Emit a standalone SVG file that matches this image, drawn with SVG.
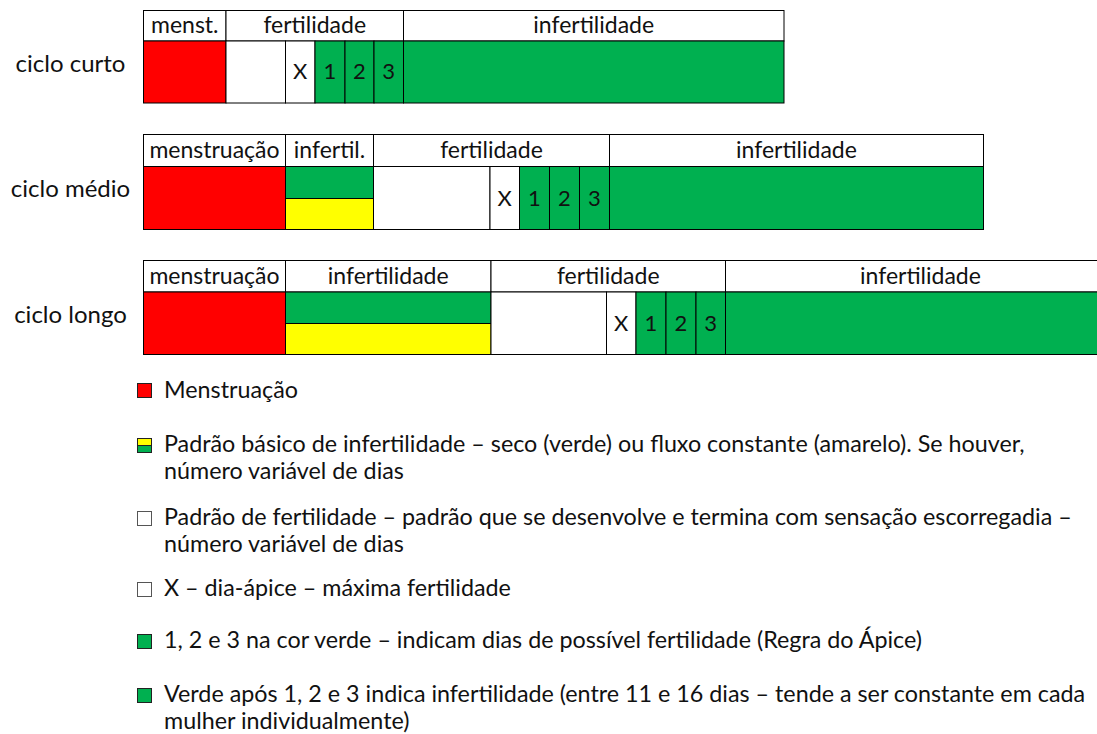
<svg xmlns="http://www.w3.org/2000/svg" width="1097" height="734" viewBox="0 0 1097 734">
<style>
text{font-family:Lato,"Noto Sans","Liberation Sans",sans-serif;fill:#111}
.h{font-size:23px;text-anchor:middle}
.n{font-size:22px;text-anchor:middle}
.lbl{font-size:24px;text-anchor:middle}
.lg{font-size:23.3px}
rect{stroke:#000;stroke-width:1}
.w{fill:#fff}
.r{fill:#ff0000}
.g{fill:#00b050}
.y{fill:#ffff00}
.sq{stroke:#222}
.sqw{fill:#fff;stroke:#555}
</style>

<g id="row-curto">
<text class="lbl" x="70.5" y="72">ciclo curto</text>
<rect class="w" x="143.5" y="10.5" width="82.5" height="30.5"/>
<rect class="w" x="226" y="10.5" width="177.5" height="30.5"/>
<rect class="w" x="403.5" y="10.5" width="380.5" height="30.5"/>
<text class="h" x="184.75" y="33">menst.</text>
<text class="h" x="314.75" y="33">fertilidade</text>
<text class="h" x="593.75" y="33">infertilidade</text>
<rect class="r" x="143.5" y="41" width="82.5" height="62"/>
<rect class="w" x="226" y="41" width="59.5" height="62"/>
<rect class="w" x="285.5" y="41" width="29.5" height="62"/>
<rect class="g" x="315" y="41" width="30" height="62"/>
<rect class="g" x="345" y="41" width="29" height="62"/>
<rect class="g" x="374" y="41" width="29.5" height="62"/>
<rect class="g" x="403.5" y="41" width="380.5" height="62"/>
<text class="n" x="300.25" y="79">X</text>
<text class="n" x="330" y="79">1</text>
<text class="n" x="359.5" y="79">2</text>
<text class="n" x="388.75" y="79">3</text>
</g>

<g id="row-medio">
<text class="lbl" x="70.5" y="197">ciclo médio</text>
<rect class="w" x="143.5" y="134.5" width="142" height="32"/>
<rect class="w" x="285.5" y="134.5" width="88" height="32"/>
<rect class="w" x="373.5" y="134.5" width="236" height="32"/>
<rect class="w" x="609.5" y="134.5" width="374" height="32"/>
<text class="h" x="214.5" y="158">menstruação</text>
<text class="h" x="329.5" y="158">infertil.</text>
<text class="h" x="491.5" y="158">fertilidade</text>
<text class="h" x="796.5" y="158">infertilidade</text>
<rect class="r" x="143.5" y="166.5" width="142" height="63"/>
<rect class="g" x="285.5" y="166.5" width="88" height="32"/>
<rect class="y" x="285.5" y="198.5" width="88" height="31"/>
<rect class="w" x="373.5" y="166.5" width="116.5" height="63"/>
<rect class="w" x="490" y="166.5" width="29.5" height="63"/>
<rect class="g" x="519.5" y="166.5" width="30" height="63"/>
<rect class="g" x="549.5" y="166.5" width="30" height="63"/>
<rect class="g" x="579.5" y="166.5" width="30" height="63"/>
<rect class="g" x="609.5" y="166.5" width="374" height="63"/>
<text class="n" x="504.75" y="206">X</text>
<text class="n" x="534.5" y="206">1</text>
<text class="n" x="564.5" y="206">2</text>
<text class="n" x="594.5" y="206">3</text>
</g>

<g id="row-longo">
<text class="lbl" x="70.5" y="323">ciclo longo</text>
<rect class="w" x="143.5" y="260.5" width="142" height="31.5"/>
<rect class="w" x="285.5" y="260.5" width="205.5" height="31.5"/>
<rect class="w" x="491" y="260.5" width="234.5" height="31.5"/>
<rect class="w" x="725.5" y="260.5" width="390" height="31.5"/>
<text class="h" x="214.5" y="284">menstruação</text>
<text class="h" x="388.25" y="284">infertilidade</text>
<text class="h" x="608.25" y="284">fertilidade</text>
<text class="h" x="920.5" y="284">infertilidade</text>
<rect class="r" x="143.5" y="292" width="142" height="62.5"/>
<rect class="g" x="285.5" y="292" width="205.5" height="31.5"/>
<rect class="y" x="285.5" y="323.5" width="205.5" height="31"/>
<rect class="w" x="491" y="292" width="115.5" height="62.5"/>
<rect class="w" x="606.5" y="292" width="29.5" height="62.5"/>
<rect class="g" x="636" y="292" width="30" height="62.5"/>
<rect class="g" x="666" y="292" width="30" height="62.5"/>
<rect class="g" x="696" y="292" width="29.5" height="62.5"/>
<rect class="g" x="725.5" y="292" width="390" height="62.5"/>
<text class="n" x="621.25" y="331">X</text>
<text class="n" x="651" y="331">1</text>
<text class="n" x="681" y="331">2</text>
<text class="n" x="710.75" y="331">3</text>
</g>

<g id="legend-menstruacao">
<rect class="r sq" x="137.5" y="383.5" width="14" height="14"/>
<text class="lg" x="164" y="398">Menstruação</text>
</g>
<g id="legend-infertilidade">
<rect class="y sq" x="137.5" y="438.5" width="14" height="7"/>
<rect class="g sq" x="137.5" y="445.5" width="14" height="7"/>
<text class="lg" x="164" y="452">Padrão básico de infertilidade – seco (verde) ou fluxo constante (amarelo). Se houver,</text>
<text class="lg" x="164" y="479">número variável de dias</text>
</g>
<g id="legend-fertilidade">
<rect class="sqw" x="137.5" y="511.5" width="14" height="14"/>
<text class="lg" x="164" y="525">Padrão de fertilidade – padrão que se desenvolve e termina com sensação escorregadia –</text>
<text class="lg" x="164" y="552">número variável de dias</text>
</g>
<g id="legend-apice">
<rect class="sqw" x="137.5" y="582.5" width="14" height="14"/>
<text class="lg" x="164" y="596">X – dia-ápice – máxima fertilidade</text>
</g>
<g id="legend-123">
<rect class="g sq" x="137.5" y="634.5" width="14" height="14"/>
<text class="lg" x="164" y="648">1, 2 e 3 na cor verde – indicam dias de possível fertilidade (Regra do Ápice)</text>
</g>
<g id="legend-verde">
<rect class="g sq" x="137.5" y="688.5" width="14" height="14"/>
<text class="lg" x="164" y="702">Verde após 1, 2 e 3 indica infertilidade (entre 11 e 16 dias – tende a ser constante em cada</text>
<text class="lg" x="164" y="729">mulher individualmente)</text>
</g>
</svg>
